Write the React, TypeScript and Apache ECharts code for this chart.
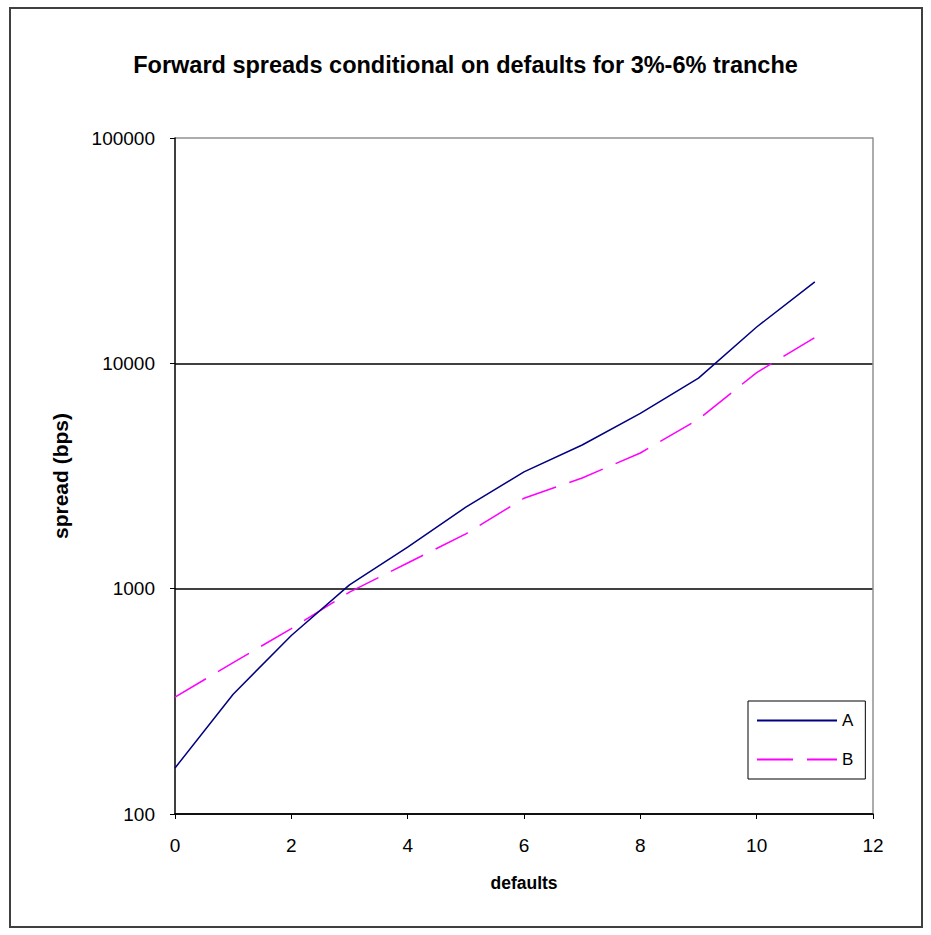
import React, { useEffect, useRef } from "react";
import * as echarts from "echarts";

const defaults = [0, 1, 2, 3, 4, 5, 6, 7, 8, 9, 10, 11];
const seriesA = [160, 340, 620, 1040, 1530, 2300, 3300, 4340, 6000, 8600, 14500, 23000];
const seriesB = [330, 470, 665, 965, 1300, 1750, 2520, 3100, 4000, 5650, 9100, 13000];
const xTicks = { min: 0, max: 12, interval: 2 };
const yRange = { min: 100, max: 100000 };
const titleText = "Forward spreads conditional on defaults for 3%-6% tranche";

const FONT = "'Liberation Sans', Arial, sans-serif";

export default function App() {
  const ref = useRef<HTMLDivElement>(null);
  useEffect(() => {
    if (!ref.current) return;
    const chart = echarts.init(ref.current, undefined, { renderer: "svg" });
    const dataA = defaults.map((d, i) => [d, seriesA[i]]);
    const dataB = defaults.map((d, i) => [d, seriesB[i]]);
    chart.setOption({
      animation: false,
      backgroundColor: "#ffffff",
      title: {
        text: titleText,
        left: "center",
        top: 48,
        textStyle: { fontFamily: FONT, fontSize: 23.5, fontWeight: "bold", color: "#000" },
      },
      graphic: [
        {
          type: "rect",
          shape: { x: 10, y: 8, width: 912, height: 919 },
          style: { fill: "none", stroke: "#404040", lineWidth: 2 },
          silent: true,
        },
      ],
      grid: { left: 175, right: 58, top: 138, bottom: 121, containLabel: false },
      legend: {
        orient: "vertical",
        left: 748,
        top: 701,
        data: ["A", "B"],
        itemWidth: 80,
        itemHeight: 14,
        itemGap: 22,
        padding: [11, 12, 11, 8],
        borderColor: "#000",
        borderWidth: 1,
        backgroundColor: "#fff",
        itemStyle: { opacity: 0 },
        textStyle: { fontFamily: FONT, fontSize: 17, color: "#000" },
      },
      xAxis: {
        type: "value",
        min: xTicks.min,
        max: xTicks.max,
        interval: xTicks.interval,
        name: "defaults",
        nameLocation: "middle",
        nameGap: 60,
        nameTextStyle: { fontFamily: FONT, fontSize: 17.5, fontWeight: "bold", color: "#000" },
        axisLine: { show: true, lineStyle: { color: "#000", width: 1.5 } },
        axisTick: { show: true, inside: false, length: 5, lineStyle: { color: "#000" } },
        axisLabel: { fontFamily: FONT, fontSize: 19, color: "#000", margin: 22 },
        splitLine: { show: false },
      },
      yAxis: [
        {
          type: "log",
          logBase: 10,
          min: yRange.min,
          max: yRange.max,
          name: "spread (bps)",
          nameLocation: "middle",
          nameGap: 104,
          nameRotate: 90,
          nameTextStyle: { fontFamily: FONT, fontSize: 21, fontWeight: "bold", color: "#000" },
          axisLine: { show: true, lineStyle: { color: "#000", width: 1.5 } },
          axisTick: { show: true, inside: false, length: 5, lineStyle: { color: "#000" } },
          minorTick: { show: false },
          axisLabel: {
            fontFamily: FONT,
            fontSize: 19,
            color: "#000",
            margin: 20,
            formatter: (v: number) => String(Math.round(v)),
          },
          splitLine: {
            show: true,
            lineStyle: { color: ["#000", "#000", "#000", "#909090"], width: 1.5 },
          },
        },
        {
          type: "log",
          logBase: 10,
          min: yRange.min,
          max: yRange.max,
          position: "right",
          axisLine: { show: true, lineStyle: { color: "#909090", width: 1.5 } },
          axisTick: { show: false },
          axisLabel: { show: false },
          splitLine: { show: false },
        },
      ],
      series: [
        {
          name: "A",
          type: "line",
          data: dataA,
          symbol: "none",
          lineStyle: { color: "#000080", width: 1.5 },
          itemStyle: { color: "#000080" },
          z: 3,
        },
        {
          name: "B",
          type: "line",
          data: dataB,
          symbol: "none",
          lineStyle: { color: "#ff00ff", width: 1.5, type: [36, 14] },
          itemStyle: { color: "#ff00ff" },
          z: 2,
        },
      ],
    });
    return () => chart.dispose();
  }, []);
  return (
    <div
      ref={ref}
      style={{ position: "absolute", left: 0, top: 0, width: 931, height: 935, background: "#fff" }}
    />
  );
}
